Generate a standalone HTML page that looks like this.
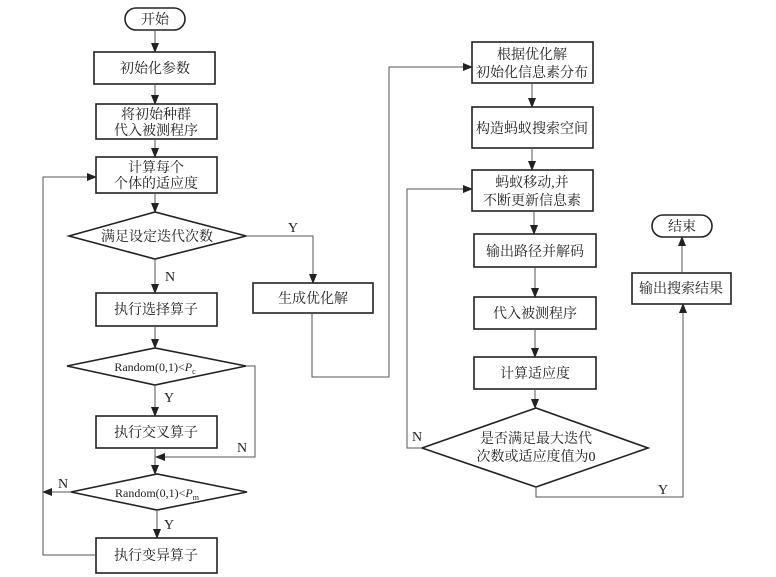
<!DOCTYPE html>
<html><head><meta charset="utf-8"><style>
html,body{margin:0;padding:0;background:#fff;}
svg{display:block;}
text{font-family:"Liberation Serif","Noto Serif CJK SC",serif;font-size:14px;fill:#222;text-anchor:middle;}
.b{fill:#fff;stroke:#222;stroke-width:1.6;}
.l{fill:none;stroke:#555;stroke-width:1;}
</style></head><body>
<svg width="776" height="577" viewBox="0 0 776 577" xmlns="http://www.w3.org/2000/svg">
<defs><marker id="a" markerWidth="10" markerHeight="8" refX="9" refY="4" orient="auto" markerUnits="userSpaceOnUse"><path d="M0,0 L10,4 L0,8 Z" fill="#222"/></marker></defs>

<!-- left column shapes -->
<rect class="b" x="125" y="8" width="60" height="22" rx="11"/><text x="155" y="24">开始</text>
<rect class="b" x="94" y="52" width="121" height="32"/><text x="155" y="73">初始化参数</text>
<rect class="b" x="96" y="104" width="121" height="35"/><text x="156" y="119">将初始种群</text><text x="156" y="135">代入被测程序</text>
<rect class="b" x="96" y="157" width="121" height="36"/><text x="156" y="172">计算每个</text><text x="156" y="188">个体的适应度</text>
<polygon class="b" points="69,236 155,212 246,236 155,259"/><text x="157" y="241">满足设定迭代次数</text>
<rect class="b" x="96" y="293" width="121" height="33"/><text x="156" y="314">执行选择算子</text>
<polygon class="b" points="67,366 155,348 246,366 155,385"/><text x="155" y="371" style="font-size:12px">Random(0,1)&lt;<tspan font-style="italic">P</tspan><tspan font-size="8" dy="3">c</tspan></text>
<rect class="b" x="96" y="416" width="121" height="32"/><text x="156" y="437">执行交叉算子</text>
<polygon class="b" points="71,492 157,474 247,492 157,510"/><text x="157" y="497" style="font-size:12px">Random(0,1)&lt;<tspan font-style="italic">P</tspan><tspan font-size="8" dy="3">m</tspan></text>
<rect class="b" x="96" y="538" width="121" height="35"/><text x="156" y="560">执行变异算子</text>
<rect class="b" x="253" y="283" width="120" height="30"/><text x="313" y="303">生成优化解</text>

<!-- left connectors -->
<line class="l" x1="155" y1="30" x2="155" y2="52" marker-end="url(#a)"/>
<line class="l" x1="155" y1="84" x2="155" y2="104" marker-end="url(#a)"/>
<line class="l" x1="155" y1="139" x2="155" y2="157" marker-end="url(#a)"/>
<line class="l" x1="155" y1="193" x2="155" y2="212" marker-end="url(#a)"/>
<line class="l" x1="155" y1="259" x2="155" y2="293" marker-end="url(#a)"/>
<line class="l" x1="155" y1="326" x2="155" y2="348" marker-end="url(#a)"/>
<line class="l" x1="155" y1="385" x2="155" y2="416" marker-end="url(#a)"/>
<line class="l" x1="155" y1="448" x2="155" y2="474" marker-end="url(#a)"/>
<line class="l" x1="157" y1="510" x2="157" y2="538" marker-end="url(#a)"/>
<polyline class="l" points="246,236 313,236 313,283" marker-end="url(#a)"/>
<polyline class="l" points="246,366 255,366 255,457 156,457" marker-end="url(#a)"/>
<line class="l" x1="71" y1="492" x2="43" y2="492" marker-end="url(#a)"/>
<polyline class="l" points="96,555 43,555 43,177 96,177" marker-end="url(#a)"/>
<polyline class="l" points="312,313 312,377 389,377 389,67 472,67" marker-end="url(#a)"/>
<text x="293" y="232">Y</text><text x="170" y="281">N</text>
<text x="169" y="402">Y</text><text x="242" y="452">N</text>
<text x="63" y="488">N</text><text x="169" y="529">Y</text>

<!-- right column -->
<rect class="b" x="472" y="42" width="121" height="41"/><text x="532" y="59">根据优化解</text><text x="532" y="77">初始化信息素分布</text>
<rect class="b" x="472" y="107" width="121" height="41"/><text x="532" y="133">构造蚂蚁搜索空间</text>
<rect class="b" x="472" y="170" width="121" height="41"/><text x="532" y="187">蚂蚁移动,并</text><text x="532" y="205">不断更新信息素</text>
<rect class="b" x="474" y="234" width="122" height="33"/><text x="535" y="256">输出路径并解码</text>
<rect class="b" x="474" y="297" width="122" height="32"/><text x="535" y="318">代入被测程序</text>
<rect class="b" x="474" y="357" width="122" height="32"/><text x="535" y="378">计算适应度</text>
<polygon class="b" points="422,448 536,408 648,448 536,487"/><text x="536" y="443">是否满足最大迭代</text><text x="536" y="461">次数或适应度值为0</text>
<rect class="b" x="632" y="273" width="99" height="31"/><text x="681" y="293">输出搜索结果</text>
<rect class="b" x="652" y="215" width="60" height="22" rx="11"/><text x="682" y="231">结束</text>

<line class="l" x1="532" y1="83" x2="532" y2="107" marker-end="url(#a)"/>
<line class="l" x1="532" y1="148" x2="532" y2="170" marker-end="url(#a)"/>
<line class="l" x1="534" y1="211" x2="534" y2="234" marker-end="url(#a)"/>
<line class="l" x1="535" y1="267" x2="535" y2="297" marker-end="url(#a)"/>
<line class="l" x1="535" y1="329" x2="535" y2="357" marker-end="url(#a)"/>
<line class="l" x1="535" y1="389" x2="535" y2="408" marker-end="url(#a)"/>
<polyline class="l" points="422,448 407,448 407,189 472,189" marker-end="url(#a)"/>
<polyline class="l" points="536,487 536,497 683,497 683,304" marker-end="url(#a)"/>
<line class="l" x1="682" y1="273" x2="682" y2="237" marker-end="url(#a)"/>
<text x="417" y="441">N</text><text x="663" y="494">Y</text>
</svg>
</body></html>
